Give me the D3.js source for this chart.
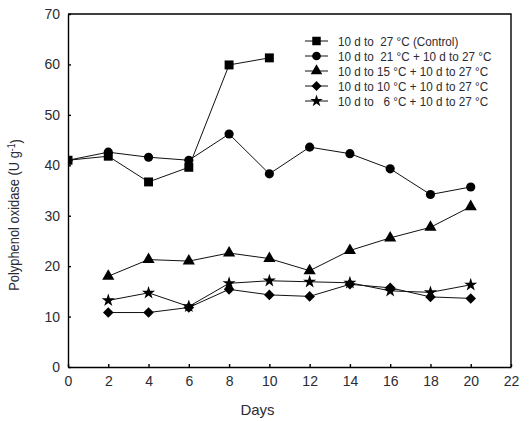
<!DOCTYPE html>
<html lang="en">
<head>
    <meta charset="UTF-8">
    <title>Polyphenol oxidase</title>
    <script src="https://d3js.org/d3.v7.min.js"></script>
    <style type="text/css">
        body { margin: 0; background: #fff; }
        text {
            font-family: "Liberation Sans Narrow", "Liberation Sans", Arial, sans-serif;
            fill: #2b2b33;
        }
        .axis text { font-size: 14px; }
        .axis path, .axis line { stroke: #000; stroke-width: 1.4px; }
        .series { fill: none; stroke: #111; stroke-width: 1px; }
        .legend text { font-size: 13px; }
    </style>
</head>
<body>
<script type="text/javascript">
    // data
    const days = [0, 2, 4, 6, 8, 10, 12, 14, 16, 18, 20];
    const xTicks = [0, 2, 4, 6, 8, 10, 12, 14, 16, 18, 20, 22];
    const yTicks = [0, 10, 20, 30, 40, 50, 60, 70];

    const control = [41.0, 41.8, 36.7, 39.6, 59.9, 61.3, null, null, null, null, null];
    const t21 = [41.0, 42.6, 41.6, 41.0, 46.2, 38.3, 43.6, 42.3, 39.3, 34.2, 35.7];
    const t15 = [null, 18.0, 21.3, 21.0, 22.6, 21.5, 19.1, 23.1, 25.6, 27.7, 31.8];
    const t10 = [null, 10.8, 10.8, 11.8, 15.4, 14.3, 14.0, 16.4, 15.7, 13.9, 13.6];
    const t6 = [null, 13.2, 14.7, 12.0, 16.6, 17.1, 16.9, 16.7, 15.1, 14.8, 16.3];

    const labels = [
        "10 d to  27 \u00b0C (Control)",
        "10 d to  21 \u00b0C + 10 d to 27 \u00b0C",
        "10 d to 15 \u00b0C + 10 d to 27 \u00b0C",
        "10 d to 10 \u00b0C + 10 d to 27 \u00b0C",
        "10 d to   6 \u00b0C + 10 d to 27 \u00b0C"
    ];

    const series = [
        { values: control, symbol: d3.symbolSquare, size: 80, rot: 0 },
        { values: t21, symbol: d3.symbolCircle, size: 66, rot: 0 },
        { values: t15, symbol: d3.symbolTriangle, size: 64, rot: 0 },
        { values: t10, symbol: d3.symbolSquare, size: 56, rot: 45 },
        { values: t6, symbol: d3.symbolStar, size: 54, rot: 0 }
    ];

    const width = 530;
    const height = 421;
    const margin = { top: 14, right: 19, bottom: 54, left: 68 };

    const svg = d3.select("body")
        .append("svg")
        .attr("width", width)
        .attr("height", height);

    const x = d3.scaleLinear()
        .domain([0, 22])
        .range([margin.left, width - margin.right]);

    const y = d3.scaleLinear()
        .domain([0, 70])
        .range([height - margin.bottom, margin.top]);

    svg.append("clipPath")
        .attr("id", "plot")
        .append("rect")
        .attr("x", x(0))
        .attr("y", y(70))
        .attr("width", x(22) - x(0))
        .attr("height", y(0) - y(70));

    // frame: top and right sides
    svg.append("path")
        .attr("d", `M${x(0)},${y(70)}H${x(22)}V${y(0)}`)
        .attr("fill", "none")
        .attr("stroke", "#000")
        .attr("stroke-width", 1.4);

    svg.append("g")
        .attr("class", "axis")
        .attr("transform", `translate(0,${y(0)})`)
        .call(d3.axisBottom(x).tickValues(xTicks).tickSizeInner(-3).tickSizeOuter(0).tickPadding(8))
        .selectAll("text").attr("dy", "0.75em");

    svg.append("g")
        .attr("class", "axis")
        .attr("transform", `translate(${x(0)},0)`)
        .call(d3.axisLeft(y).tickValues(yTicks).tickSizeInner(-3).tickSizeOuter(0).tickPadding(8));

    const line = d3.line()
        .defined(d => d[1] != null)
        .x(d => x(d[0]))
        .y(d => y(d[1]));

    const plot = svg.append("g").attr("clip-path", "url(#plot)");

    series.forEach(s => {
        const pts = days.map((d, i) => [d, s.values[i]]).filter(p => p[1] != null);
        plot.append("path")
            .datum(pts)
            .attr("class", "series")
            .attr("d", line);
        plot.selectAll(null)
            .data(pts)
            .enter()
            .append("path")
            .attr("d", d3.symbol().type(s.symbol).size(s.size))
            .attr("transform", p => `translate(${x(p[0])},${y(p[1])}) rotate(${s.rot})`)
            .attr("fill", "#000");
    });

    // legend (text squeezed a bit to look like the condensed original)
    const legend = svg.append("g").attr("class", "legend");
    series.forEach((s, i) => {
        const ly = 41 + i * 15;
        legend.append("line")
            .attr("x1", 305).attr("x2", 328)
            .attr("y1", ly).attr("y2", ly)
            .attr("stroke", "#111").attr("stroke-width", 1);
        legend.append("path")
            .attr("d", d3.symbol().type(s.symbol).size(s.size * 0.9))
            .attr("transform", `translate(316.5,${ly}) rotate(${s.rot})`)
            .attr("fill", "#000");
        legend.append("text")
            .attr("transform", `translate(338,${ly}) scale(0.9,1)`)
            .attr("dy", "0.35em")
            .style("white-space", "pre")
            .text(labels[i]);
    });

    svg.append("text")
        .attr("x", (x(0) + x(22)) / 2 - 32)
        .attr("y", 415)
        .attr("text-anchor", "middle")
        .style("font-size", "15px")
        .text("Days");

    const ylab = svg.append("text")
        .attr("transform", `translate(19,215) rotate(-90) scale(0.86,1)`)
        .attr("text-anchor", "middle")
        .style("font-size", "15px");
    ylab.append("tspan").text("Polyphenol oxidase (U g");
    ylab.append("tspan").attr("dy", "-0.45em").style("font-size", "10px").text("-1");
    ylab.append("tspan").attr("dy", "0.45em").text(")");
</script>
</body>
</html>
